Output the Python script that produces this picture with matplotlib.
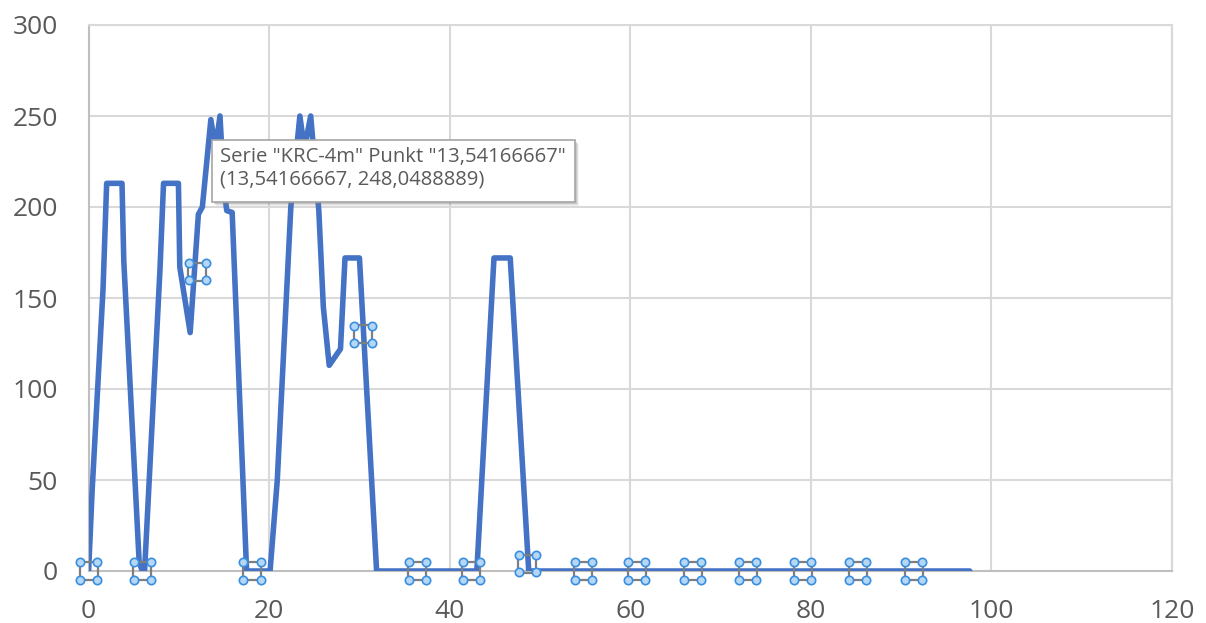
import matplotlib
matplotlib.use("Agg")
import matplotlib.pyplot as plt
from matplotlib.patches import Rectangle
from matplotlib.transforms import offset_copy

plt.rcParams['font.family'] = ['Open Sans', 'DejaVu Sans']

# Serie KRC-4m (Tage, Wert)
x_krc = [0, 0.4, 1.0, 1.6, 2.0, 3.7, 3.9, 5.6, 5.95, 6.2, 7.9, 8.3, 9.95, 10.1, 11.25,
         12.16, 12.6, 13.54166667, 14.05, 14.55, 15.0, 15.3, 15.9, 17.5, 20.1, 20.9,
         21.5, 22.4, 23.4, 23.9, 24.6, 25.5, 26.0, 26.65, 27.9, 28.4, 30.0, 31.9, 43.0,
         44.9, 46.7, 48.75, 97.6]
y_krc = [0, 45, 100, 155, 213, 213, 170, 5, 0, 0, 165, 213, 213, 167, 131,
         196, 200, 248.0488889, 232, 250, 210, 198, 197, 0, 0, 50,
         110, 200, 250, 232, 250, 198, 145, 113, 122, 172, 172, 0, 0,
         172, 172, 0, 0]

# markierte Datenbeschriftungen
x_lbl = [0, 5.95, 12.03, 18.1, 30.4, 36.4, 42.4, 48.6, 54.8, 60.7, 66.9, 73.0, 79.1, 85.2, 91.4]
y_lbl = [0, 0, 164.5, 0, 130, 0, 0, 4, 0, 0, 0, 0, 0, 0, 0]

x_ticks = [0, 20, 40, 60, 80, 100, 120]
y_ticks = [0, 50, 100, 150, 200, 250, 300]

tip_punkt = "13,54166667"
tip_wert = "248,0488889"

W, H = 1206, 623
fig = plt.figure(figsize=(W / 100, H / 100), dpi=100)
ax = fig.add_axes([88.6 / W, (H - 571) / H, (1172 - 88.6) / W, (571 - 25) / H])

grid_c = '#d9d9d9'
ax.set_xlim(0, 120)
ax.set_ylim(0, 300)
ax.set_xticks(x_ticks)
ax.set_yticks(y_ticks)
ax.grid(True, color=grid_c, linewidth=1.5)
ax.set_axisbelow(True)
for s in ['top', 'right']:
    ax.spines[s].set_color(grid_c)
    ax.spines[s].set_linewidth(1.5)
for s in ['left', 'bottom']:
    ax.spines[s].set_color('#bfbfbf')
    ax.spines[s].set_linewidth(1.5)
ax.tick_params(length=0, labelsize=19, labelcolor='#595959')
ax.tick_params(axis='y', pad=22)
ax.tick_params(axis='x', pad=20)

ax.plot(x_krc, y_krc, color='#4472c4', linewidth=4.0, solid_joinstyle='round',
        solid_capstyle='round', zorder=3)

# Rahmen der Beschriftungen mit Ziehpunkten
ax.plot(x_lbl, y_lbl, linestyle='none', marker='s', markersize=12.3, markerfacecolor='none',
        markeredgecolor='#7f7f7f', markeredgewidth=1.6, zorder=4, clip_on=False)
for dx in (-8.6, 8.6):
    for dy in (-8.6, 8.6):
        tr = offset_copy(ax.transData, fig=fig, x=dx, y=dy, units='dots')
        ax.plot(x_lbl, y_lbl, linestyle='none', marker='o', markersize=6.0,
                markerfacecolor='#b3d7f5', markeredgecolor='#3a8ee0', markeredgewidth=1.2,
                transform=tr, zorder=5, clip_on=False)

# Tooltip
def fx(px):
    return px / W

def fy(py):
    return (H - py) / H

x0, x1, y0, y1 = 211.7, 575, 140, 201.7
for i, a in enumerate([0.10, 0.16, 0.25]):
    off = 4 - i
    fig.add_artist(Rectangle((fx(x0 + off), fy(y1 + off)), fx(x1 - x0), (y1 - y0) / H,
                             transform=fig.transFigure, facecolor='#808080', alpha=a,
                             edgecolor='none', zorder=10))
fig.add_artist(Rectangle((fx(x0), fy(y1)), fx(x1 - x0), (y1 - y0) / H,
                         transform=fig.transFigure, facecolor='white',
                         edgecolor='#a6a6a6', linewidth=1.2, zorder=11))
fig.text(fx(220), fy(162), 'Serie "KRC-4m" Punkt "%s"' % tip_punkt, fontsize=14.6,
         color='#5a5a5a', va='baseline', ha='left', zorder=12)
fig.text(fx(220), fy(184), '(%s, %s)' % (tip_punkt, tip_wert), fontsize=14.6,
         color='#5a5a5a', va='baseline', ha='left', zorder=12)

fig.savefig('out.png', dpi=100)
